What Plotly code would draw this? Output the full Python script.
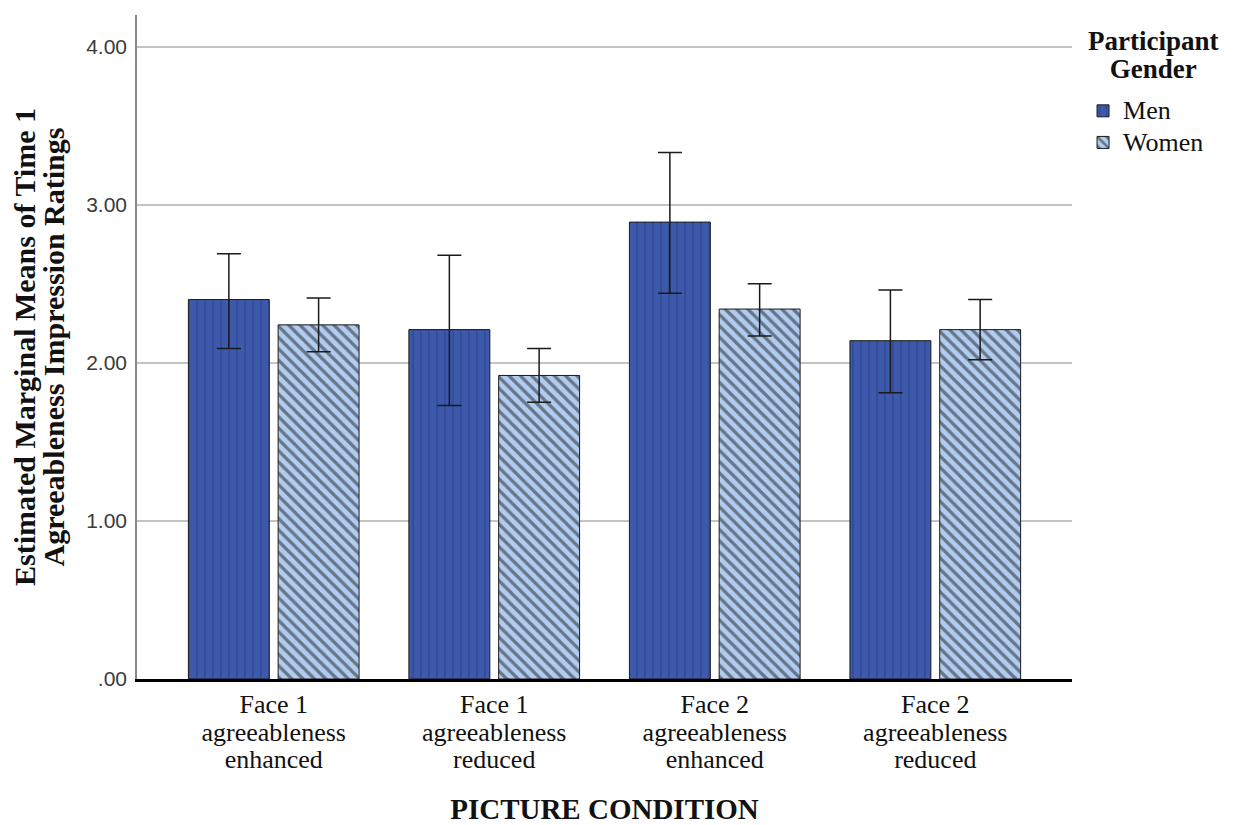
import plotly.graph_objects as go

categories = [["Face 1", "agreeableness", "enhanced"], ["Face 1", "agreeableness", "reduced"],
              ["Face 2", "agreeableness", "enhanced"], ["Face 2", "agreeableness", "reduced"]]
men_means = [2.40, 2.21, 2.89, 2.14]
men_upper = [2.69, 2.68, 3.33, 2.46]
men_lower = [2.09, 1.73, 2.44, 1.81]
women_means = [2.24, 1.92, 2.34, 2.21]
women_upper = [2.41, 2.09, 2.50, 2.40]
women_lower = [2.07, 1.75, 2.17, 2.02]
y_ticks = [0, 1, 2, 3, 4]
y_ticklabels = [".00", "1.00", "2.00", "3.00", "4.00"]
legend_title = ["Participant", "Gender"]
series_names = ["Men", "Women"]

xpos = list(range(len(categories)))
serif = "Liberation Serif, Times New Roman, serif"


def big(lines, px):
    return "<br>".join(f"<span style='font-size:{px}px'>{t}</span>" for t in lines)


ticktext = [big(c, 26) for c in categories]

fig = go.Figure()
fig.add_trace(go.Bar(
    x=xpos, y=men_means, name=big([series_names[0]], 26), width=0.367, offset=-0.387,
    marker=dict(color="#3D59AC", line=dict(color="#1a1a1a", width=1),
                pattern=dict(shape="|", fgcolor="#1b2a60", size=8, solidity=0.13)),
    error_y=dict(type="data", symmetric=False,
                 array=[u - m for u, m in zip(men_upper, men_means)],
                 arrayminus=[m - l for m, l in zip(men_means, men_lower)],
                 color="#1a1a1a", thickness=1.5, width=12),
))
fig.add_trace(go.Bar(
    x=xpos, y=women_means, name=big([series_names[1]], 26), width=0.367, offset=0.02,
    marker=dict(color="#B0CCF1", line=dict(color="#1a1a1a", width=1),
                pattern=dict(shape="\\", fgcolor="#1e1e1e", size=8, solidity=0.4)),
    error_y=dict(type="data", symmetric=False,
                 array=[u - m for u, m in zip(women_upper, women_means)],
                 arrayminus=[m - l for m, l in zip(women_means, women_lower)],
                 color="#1a1a1a", thickness=1.5, width=12),
))

fig.add_annotation(
    text="<b>" + big(legend_title, 27) + "</b>",
    xref="paper", yref="paper", x=1.0866, y=0.986, xanchor="center", yanchor="top",
    align="center", showarrow=False,
    font=dict(family=serif, size=21.5, color="#111111"),
)

fig.update_layout(
    width=1233, height=825,
    barmode="overlay",
    plot_bgcolor="white", paper_bgcolor="white",
    margin=dict(l=129, r=169, t=7, b=154),
    xaxis=dict(range=[-0.62, 3.62], tickvals=xpos, ticktext=ticktext,
               showline=True, linecolor="black", linewidth=3, showgrid=False,
               ticks="", ticklabelstandoff=6,
               tickfont=dict(family=serif, size=21, color="#111111"),
               title=dict(text="<b>PICTURE CONDITION</b>", standoff=26,
                          font=dict(family=serif, size=29, color="#111111"))),
    yaxis=dict(range=[0, 4.2], tickvals=y_ticks, ticktext=y_ticklabels,
               showline=True, linecolor="#888888", linewidth=1.5,
               showgrid=True, gridcolor="#C4C4C4", gridwidth=1.5, zeroline=False,
               ticks="", ticklabelstandoff=4,
               tickfont=dict(family="Liberation Sans, Arial, sans-serif", size=21, color="#3a3a3a"),
               title=dict(text="<b>" + big(["Estimated Marginal Means of Time 1",
                                            "Agreeableness Impression Ratings"], 30) + "</b>",
                          standoff=19, font=dict(family=serif, size=22, color="#111111"))),
    legend=dict(x=1.0118, y=0.887, xanchor="left", yanchor="top",
                font=dict(family=serif, size=22, color="#111111"),
                itemwidth=30, tracegroupgap=0),
)

fig.write_html("out.html")
